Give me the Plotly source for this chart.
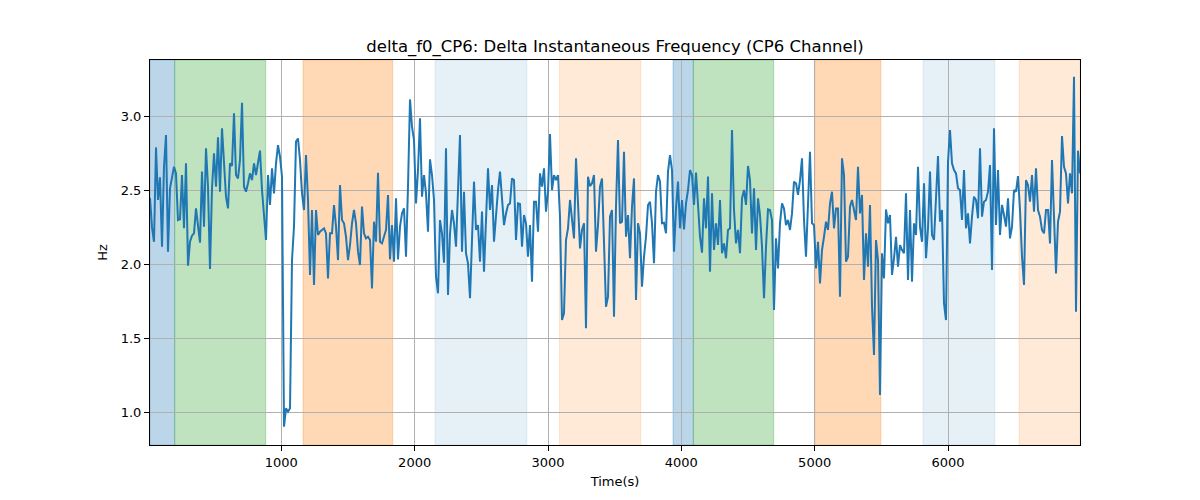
import plotly.graph_objects as go
import numpy as np

title_text = "delta_f0_CP6: Delta Instantaneous Frequency (CP6 Channel)"
x_label = "Time(s)"
y_label = "Hz"

t_start = 15
t_end = 6990

delta_f0 = [
    # segment 1
    2.45, 2.25, 2.153, 2.792, 2.436, 2.589, 2.120, 2.661, 2.876, 2.086, 2.515, 2.605, 2.661, 2.616,
    2.300, 2.305, 2.605, 2.244, 2.684, 1.991, 2.153, 2.194, 2.210, 2.379, 2.237, 2.147, 2.628, 2.255,
    2.786, 2.526, 1.968, 2.515, 2.752, 2.526, 2.860, 2.492, 2.921, 2.684, 2.458, 2.379, 2.684, 2.666,
    # segment 2
    3.023, 2.605, 2.582, 2.707, 3.095, 2.526, 2.492, 2.549, 2.616, 2.571, 2.684, 2.605, 2.684, 2.770,
    2.503, 2.323, 2.165, 2.605, 2.402, 2.650, 2.481, 2.684, 2.808, 2.729, 2.594, 0.901, 1.025, 1.002,
    1.025, 2.029, 2.255, 2.831, 2.853, 2.707, 2.481, 2.368, 2.740, 2.436, 1.928, 2.368, 1.860, 2.368, 2.199,
    # segment 3
    2.221, 2.233, 2.244, 2.210, 1.905, 2.210, 2.210, 2.402, 2.255, 2.029, 2.537, 2.300, 2.278, 2.187,
    2.029, 2.131, 2.278, 2.368, 2.278, 2.086, 1.995, 2.391, 2.210, 2.176, 2.187, 2.165, 1.837, 2.289,
    2.153, 2.621, 2.153, 2.142, 2.187, 2.233, 2.470, 2.034, 2.266, 2.018, 2.447, 2.034, 2.255, 2.345, 2.379,
    # segment 4
    2.052, 2.526, 3.117, 2.932, 2.842, 2.413, 2.639, 2.989, 2.458, 2.605, 2.481, 2.221, 2.711, 2.605,
    2.436, 1.916, 1.804, 2.300, 2.210, 2.011, 2.786, 1.792, 2.210, 2.368, 2.278, 2.120, 2.526, 2.876,
    2.086, 2.492, 2.075, 2.007, 1.770, 2.142, 2.560, 2.233, 2.266, 2.018, 2.357, 1.950, 2.300, 2.650,
    # segment 5
    2.368, 2.537, 2.153, 2.345, 2.503, 2.628, 2.458, 2.266, 2.345, 2.402, 2.413, 2.582, 2.571, 2.165,
    2.413, 2.409, 2.120, 2.334, 2.278, 2.052, 2.266, 1.883, 2.424, 2.424, 2.221, 2.616, 2.526, 2.650,
    2.357, 2.492, 2.883, 2.503, 2.605, 2.571, 2.605, 2.323, 1.623, 1.668, 2.165, 2.244, 2.436, 2.323,
    # segment 6
    2.176, 2.718, 2.458, 2.108, 2.233, 2.278, 1.567, 2.594, 2.530, 2.549, 2.605, 2.086, 2.266, 2.526,
    2.582, 2.165, 1.713, 1.781, 2.323, 2.368, 1.646, 2.391, 2.842, 2.278, 2.289, 2.763, 2.187, 2.334,
    2.041, 2.391, 2.582, 1.758, 2.278, 2.210, 1.849, 2.052, 2.187, 2.402, 2.424, 2.278, 2.007, 2.492,
    # segment 7
    2.605, 2.560, 2.278, 2.282, 2.210, 2.628, 2.740, 2.639, 2.086, 2.379, 2.560, 2.244, 2.436, 2.237,
    2.413, 2.503, 2.639, 2.605, 2.402, 2.621, 2.391, 2.187, 2.079, 2.447, 2.244, 2.594, 1.950, 2.481,
    2.097, 2.278, 2.131, 2.436, 2.075, 2.142, 2.041, 2.233, 2.244, 2.910, 2.368, 2.142, 2.233, 2.075,
    # segment 8
    2.447, 2.503, 2.402, 2.666, 2.571, 2.210, 2.515, 2.097, 2.447, 2.334, 2.120, 1.770, 2.120, 2.372,
    2.368, 2.300, 1.691, 2.176, 1.973, 2.278, 2.413, 2.379, 2.266, 2.300, 2.233, 2.345, 2.560, 2.549,
    2.470, 2.571, 2.718, 2.300, 2.052, 2.436, 2.763, 2.278, 2.266, 1.973, 2.153, 1.871, 2.097, 2.187,
    # segment 9
    2.289, 2.233, 2.413, 2.492, 2.244, 2.379, 2.379, 1.781, 2.718, 2.605, 2.018, 2.052, 2.391, 2.436,
    2.368, 2.300, 2.661, 2.345, 2.470, 1.894, 2.210, 1.984, 2.402, 1.713, 1.386, 2.165, 2.029, 1.115,
    2.075, 1.905, 2.372, 2.278, 2.334, 1.928, 2.041, 2.187, 1.984, 2.131, 2.097, 2.075, 2.481, 1.894,
    # segment 10
    2.368, 1.883, 2.278, 2.199, 2.661, 2.255, 2.153, 2.549, 2.041, 2.244, 2.628, 2.199, 2.165, 2.481,
    2.734, 2.289, 2.368, 1.736, 1.623, 2.695, 2.910, 2.684, 2.639, 2.616, 2.515, 2.503, 2.300, 2.639,
    2.244, 2.345, 2.142, 2.323, 2.458, 2.436, 2.312, 2.786, 2.323, 2.424, 2.436, 2.492, 2.673, 1.962,
    # segment 11
    2.921, 2.266, 2.639, 2.199, 2.402, 2.334, 2.255, 2.447, 2.176, 2.255, 2.503, 2.492, 2.598, 2.368,
    2.052, 1.860, 2.571, 2.537, 2.424, 2.605, 2.357, 2.650, 2.368, 2.323, 2.233, 2.210, 2.368, 2.368,
    2.142, 2.707, 2.345, 1.939, 2.289, 2.357, 2.869, 2.661, 2.616, 2.413, 2.616, 2.481, 3.271, 1.679,
    2.770, 2.616,
]

time_s = np.linspace(t_start, t_end, len(delta_f0))

# shaded intervals: (start, end, kind)
span_starts = [t_start, 200, 1163, 2153, 3086, 3938, 4090, 5001, 5813, 6533]
span_ends = [200, 883, 1835, 2841, 3696, 4090, 4693, 5496, 6351, t_end]
span_kinds = ["blue", "green", "orange", "lightblue", "lightorange",
              "blue", "green", "orange", "lightblue", "lightorange"]

span_fill = {
    "blue": "rgba(31,119,180,0.30)",
    "green": "rgba(44,160,44,0.30)",
    "orange": "rgba(255,127,14,0.30)",
    "lightblue": "rgba(31,119,180,0.11)",
    "lightorange": "rgba(255,127,14,0.16)",
}

x_ticks = [1000, 2000, 3000, 4000, 5000, 6000]
y_ticks = [1.0, 1.5, 2.0, 2.5, 3.0]

fig = go.Figure()

shapes = []
for s, e, k in zip(span_starts, span_ends, span_kinds):
    shapes.append(dict(type="rect", xref="x", yref="paper", x0=s, x1=e, y0=0, y1=1,
                       fillcolor=span_fill[k], line=dict(color=span_fill[k], width=1),
                       layer="below"))

fig.add_trace(go.Scatter(x=time_s, y=delta_f0, mode="lines",
                         line=dict(color="#1f77b4", width=2), showlegend=False))

font_family = "DejaVu Sans"
fig.update_layout(
    width=1200, height=500,
    paper_bgcolor="white", plot_bgcolor="white",
    margin=dict(l=142, r=128, t=52, b=63),
    shapes=shapes,
    font=dict(family=font_family, color="black", size=13),
    title=dict(text=title_text, x=0.5, xref="paper", y=1 - 38 / 500, yref="container",
               xanchor="center", yanchor="middle", font=dict(size=16.5, family=font_family)),
)
fig.update_xaxes(
    range=[t_start, t_end], tickvals=x_ticks, ticktext=[str(v) for v in x_ticks],
    showgrid=True, gridcolor="#b0b0b0", gridwidth=1,
    showline=True, linecolor="black", linewidth=1, mirror=True,
    ticks="outside", ticklen=5, tickcolor="black", zeroline=False,
    tickfont=dict(size=13),
    title=dict(text=x_label, font=dict(size=13), standoff=8),
)
fig.update_yaxes(
    range=[0.7765, 3.384], tickvals=y_ticks, ticktext=[f"{v:.1f}" for v in y_ticks],
    showgrid=True, gridcolor="#b0b0b0", gridwidth=1,
    showline=True, linecolor="black", linewidth=1, mirror=True,
    ticks="outside", ticklen=5, tickcolor="black", zeroline=False,
    tickfont=dict(size=13),
    title=dict(text=y_label, font=dict(size=13), standoff=10),
)

fig.write_html("out.html")
